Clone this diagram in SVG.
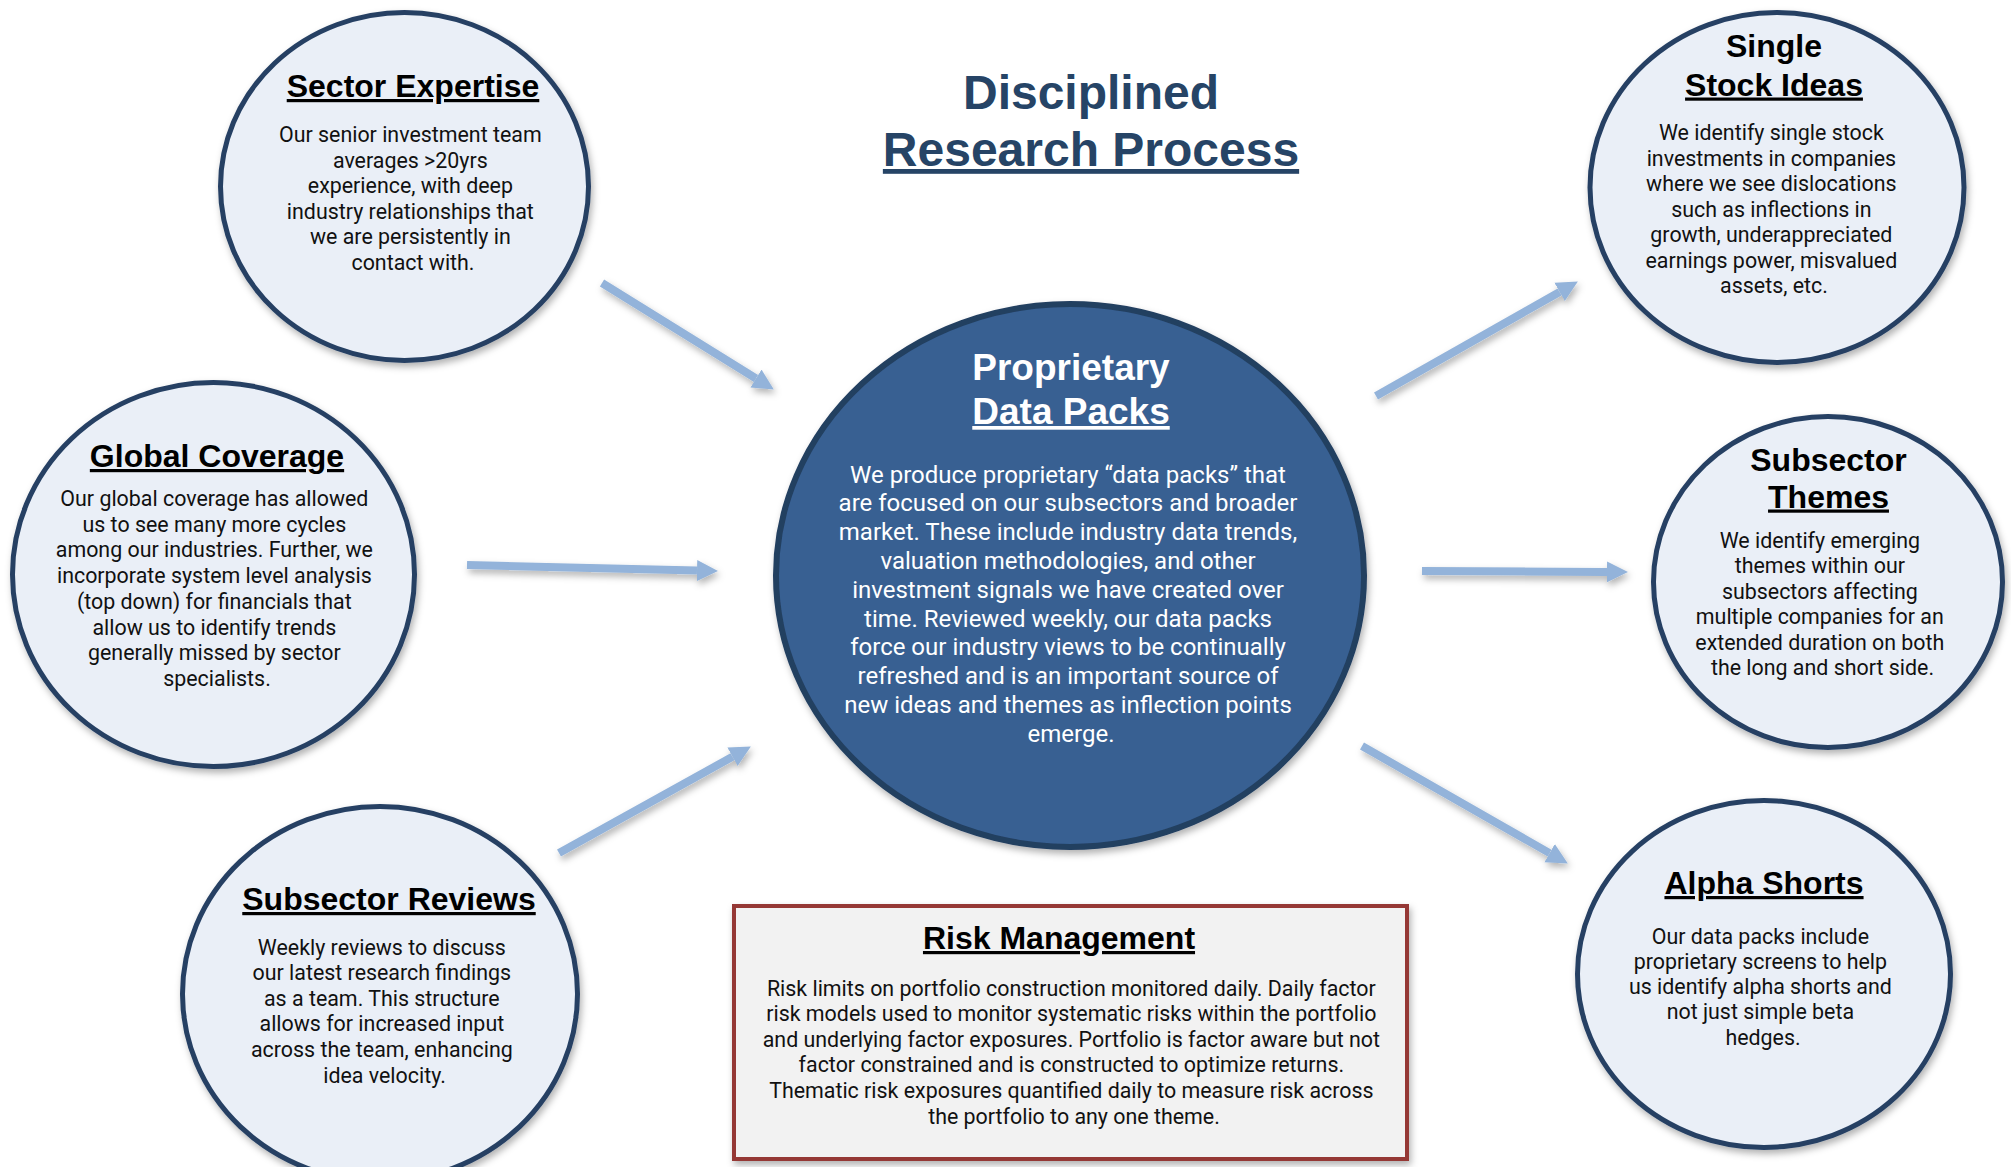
<svg xmlns="http://www.w3.org/2000/svg" width="2011" height="1167" viewBox="0 0 2011 1167">
  <style>
    .bubble { fill: #EAEFF7; stroke: #264064; stroke-width: 5; }
    .hub { fill: #376092; stroke: #243F60; stroke-width: 6; }
    .head { font-family: "Liberation Sans", Arial, sans-serif; font-weight: bold; font-size: 32px; fill: #000; text-anchor: middle; }
    .body { font-family: Roboto, "Noto Sans", sans-serif; font-size: 21.4px; fill: #111; text-anchor: middle; }
    .hub-head { font-family: "Liberation Sans", Arial, sans-serif; font-weight: bold; font-size: 37px; fill: #fff; text-anchor: middle; }
    .hub-body { font-family: Roboto, "Noto Sans", sans-serif; font-size: 24px; fill: #fff; text-anchor: middle; }
    .title { font-family: "Liberation Sans", Arial, sans-serif; font-weight: bold; font-size: 48px; fill: #264466; text-anchor: middle; }
    .u { text-decoration: underline; }
    .arrow { stroke: #93B3DA; stroke-width: 8; fill: none; marker-end: url(#tip); }
  </style>
  <defs>
    <filter id="shadow" x="-10%" y="-10%" width="125%" height="125%">
      <feDropShadow dx="2" dy="4" stdDeviation="3.5" flood-color="#000" flood-opacity="0.3"/>
    </filter>
    <marker id="tip" markerUnits="userSpaceOnUse" markerWidth="22" markerHeight="22" refX="0" refY="10.5" orient="auto" viewBox="0 0 22 21">
      <path d="M0,0 L21,10.5 L0,21 z" fill="#93B3DA"/>
    </marker>
  </defs>

  <rect width="2011" height="1167" fill="#fff"/>

  <!-- page title -->
  <g id="title">
    <text class="title" x="1091" y="109">Disciplined</text>
    <text class="title u" x="1091" y="166">Research Process</text>
  </g>

  <!-- connectors -->
  <g id="connectors" filter="url(#shadow)">
    <line class="arrow" x1="602" y1="283" x2="756" y2="378.5"/>
    <line class="arrow" x1="467" y1="565" x2="697" y2="570.5"/>
    <line class="arrow" x1="559" y1="853" x2="732.5" y2="756.7"/>
    <line class="arrow" x1="1376" y1="396" x2="1559.6" y2="291.9"/>
    <line class="arrow" x1="1422" y1="571" x2="1607" y2="571.9"/>
    <line class="arrow" x1="1362" y1="746" x2="1549.6" y2="853.1"/>
  </g>

  <g id="sector-expertise">
    <ellipse class="bubble" cx="404.5" cy="186.5" rx="184" ry="174" filter="url(#shadow)"/>
    <text class="head u" x="413" y="97">Sector Expertise</text>
    <text class="body">
      <tspan x="413" y="142">Our senior investment team</tspan>
      <tspan x="413" y="167.5">averages &gt;20yrs</tspan>
      <tspan x="413" y="193">experience, with deep</tspan>
      <tspan x="413" y="218.5">industry relationships that</tspan>
      <tspan x="413" y="244">we are persistently in</tspan>
      <tspan x="413" y="269.5">contact with.</tspan>
    </text>
  </g>

  <g id="global-coverage">
    <ellipse class="bubble" cx="213.5" cy="574.5" rx="201" ry="192" filter="url(#shadow)"/>
    <text class="head u" x="217" y="467">Global Coverage</text>
    <text class="body">
      <tspan x="217" y="506">Our global coverage has allowed</tspan>
      <tspan x="217" y="531.7">us to see many more cycles</tspan>
      <tspan x="217" y="557.4">among our industries. Further, we</tspan>
      <tspan x="217" y="583.1">incorporate system level analysis</tspan>
      <tspan x="217" y="608.8">(top down) for financials that</tspan>
      <tspan x="217" y="634.5">allow us to identify trends</tspan>
      <tspan x="217" y="660.2">generally missed by sector</tspan>
      <tspan x="217" y="685.9">specialists.</tspan>
    </text>
  </g>

  <g id="subsector-reviews">
    <ellipse class="bubble" cx="380" cy="994" rx="197.5" ry="187.5" filter="url(#shadow)"/>
    <text class="head u" x="389" y="910">Subsector Reviews</text>
    <text class="body">
      <tspan x="384.5" y="954.5">Weekly reviews to discuss</tspan>
      <tspan x="384.5" y="980.1">our latest research findings</tspan>
      <tspan x="384.5" y="1005.7">as a team. This structure</tspan>
      <tspan x="384.5" y="1031.3">allows for increased input</tspan>
      <tspan x="384.5" y="1056.9">across the team, enhancing</tspan>
      <tspan x="384.5" y="1082.5">idea velocity.</tspan>
    </text>
  </g>

  <g id="data-packs">
    <ellipse class="hub" cx="1070" cy="575.5" rx="294" ry="271.5" filter="url(#shadow)"/>
    <text class="hub-head" x="1071" y="380">Proprietary</text>
    <text class="hub-head u" x="1071" y="424">Data Packs</text>
    <text class="hub-body">
      <tspan x="1071" y="482.5">We produce proprietary “data packs” that</tspan>
      <tspan x="1071" y="511.3">are focused on our subsectors and broader</tspan>
      <tspan x="1071" y="540.1">market. These include industry data trends,</tspan>
      <tspan x="1071" y="568.9">valuation methodologies, and other</tspan>
      <tspan x="1071" y="597.7">investment signals we have created over</tspan>
      <tspan x="1071" y="626.5">time. Reviewed weekly, our data packs</tspan>
      <tspan x="1071" y="655.3">force our industry views to be continually</tspan>
      <tspan x="1071" y="684.1">refreshed and is an important source of</tspan>
      <tspan x="1071" y="712.9">new ideas and themes as inflection points</tspan>
      <tspan x="1071" y="741.7">emerge.</tspan>
    </text>
  </g>

  <g id="single-stock-ideas">
    <ellipse class="bubble" cx="1777" cy="187.5" rx="187" ry="175" filter="url(#shadow)"/>
    <text class="head" x="1774" y="57">Single</text>
    <text class="head u" x="1774" y="95.5">Stock Ideas</text>
    <text class="body">
      <tspan x="1774" y="140">We identify single stock</tspan>
      <tspan x="1774" y="165.5">investments in companies</tspan>
      <tspan x="1774" y="191">where we see dislocations</tspan>
      <tspan x="1774" y="216.5">such as inflections in</tspan>
      <tspan x="1774" y="242">growth, underappreciated</tspan>
      <tspan x="1774" y="267.5">earnings power, misvalued</tspan>
      <tspan x="1774" y="293">assets, etc.</tspan>
    </text>
  </g>

  <g id="subsector-themes">
    <ellipse class="bubble" cx="1828" cy="582" rx="174.5" ry="165.5" filter="url(#shadow)"/>
    <text class="head" x="1828.5" y="470.5">Subsector</text>
    <text class="head u" x="1828.5" y="507.5">Themes</text>
    <text class="body">
      <tspan x="1822.5" y="547.5">We identify emerging</tspan>
      <tspan x="1822.5" y="573">themes within our</tspan>
      <tspan x="1822.5" y="598.5">subsectors affecting</tspan>
      <tspan x="1822.5" y="624">multiple companies for an</tspan>
      <tspan x="1822.5" y="649.5">extended duration on both</tspan>
      <tspan x="1822.5" y="675">the long and short side.</tspan>
    </text>
  </g>

  <g id="alpha-shorts">
    <ellipse class="bubble" cx="1764" cy="974" rx="186.5" ry="173.5" filter="url(#shadow)"/>
    <text class="head u" x="1764" y="894">Alpha Shorts</text>
    <text class="body">
      <tspan x="1763" y="943.5">Our data packs include</tspan>
      <tspan x="1763" y="968.8">proprietary screens to help</tspan>
      <tspan x="1763" y="994.1">us identify alpha shorts and</tspan>
      <tspan x="1763" y="1019.4">not just simple beta</tspan>
      <tspan x="1763" y="1044.7">hedges.</tspan>
    </text>
  </g>

  <g id="risk-management">
    <rect x="734" y="906" width="673" height="253" fill="#F2F2F2" stroke="#953735" stroke-width="4" filter="url(#shadow)"/>
    <text class="head u" x="1059" y="949">Risk Management</text>
    <text class="body">
      <tspan x="1074" y="995.5">Risk limits on portfolio construction monitored daily. Daily factor</tspan>
      <tspan x="1074" y="1021.1">risk models used to monitor systematic risks within the portfolio</tspan>
      <tspan x="1074" y="1046.7">and underlying factor exposures. Portfolio is factor aware but not</tspan>
      <tspan x="1074" y="1072.3">factor constrained and is constructed to optimize returns.</tspan>
      <tspan x="1074" y="1097.9">Thematic risk exposures quantified daily to measure risk across</tspan>
      <tspan x="1074" y="1123.5">the portfolio to any one theme.</tspan>
    </text>
  </g>
</svg>
